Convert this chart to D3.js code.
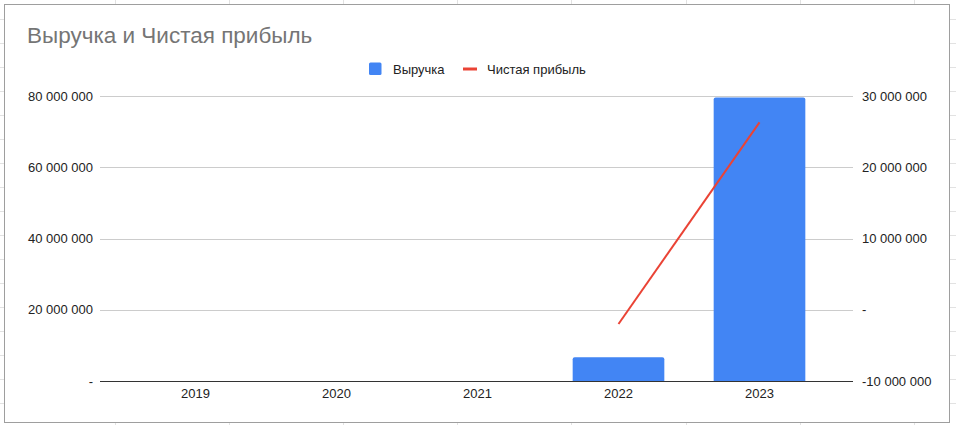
<!DOCTYPE html>
<html>
<head>
<meta charset="utf-8">
<script src="https://cdn.jsdelivr.net/npm/d3@7"></script>
<style>
  body { margin: 0; background: #fff; }
  text { font-family: "Liberation Sans", Arial, sans-serif; }
</style>
</head>
<body>
<div id="container"></div>
<script>
var width = 956, height = 425;

// donnees du graphique
var years = ["2019", "2020", "2021", "2022", "2023"];
var revenue = [0, 0, 0, 6700000, 79600000];
var profit = [null, null, null, -2000000, 26300000];
var leftTicks = [0, 20000000, 40000000, 60000000, 80000000];
var rightTicks = [-10000000, 0, 10000000, 20000000, 30000000];
var title = "Выручка и Чистая прибыль";
var seriesNames = ["Выручка", "Чистая прибыль"];

var svg = d3.select("#container")
    .append("svg")
    .attr("width", width)
    .attr("height", height);

// grille du tableur en fond
var bg = svg.append("g");
for (var cx = 115; cx < width; cx += 114.1) {
    bg.append("line").attr("x1", Math.round(cx) + 0.5).attr("x2", Math.round(cx) + 0.5)
      .attr("y1", 0).attr("y2", height).attr("stroke", "#e2e2e2");
}
for (var cy = 19; cy < height; cy += 24) {
    bg.append("line").attr("y1", cy + 0.5).attr("y2", cy + 0.5)
      .attr("x1", 0).attr("x2", width).attr("stroke", "#e2e2e2");
}

// cadre du graphique
svg.append("rect")
    .attr("x", 4.5).attr("y", 4.5)
    .attr("width", 945).attr("height", 418)
    .attr("fill", "#fff")
    .attr("stroke", "#9e9e9e");

var plotLeft = 100, plotRight = 853, plotTop = 96, plotBottom = 381;

var x = d3.scaleBand()
    .domain(years)
    .range([plotLeft + 25, plotRight - 23])
    .paddingInner(0.35)
    .paddingOuter(0.175);

var yL = d3.scaleLinear().domain([0, 80000000]).range([plotBottom, plotTop]);
var yR = d3.scaleLinear().domain([-10000000, 30000000]).range([plotBottom, plotTop]);

function fmt(v) {
    if (v === 0) return "-";
    return d3.format(",")(v).replace(/,/g, " ").replace("−", "-");
}

// titre
svg.append("text")
    .attr("x", 27).attr("y", 43)
    .attr("font-size", 22.5)
    .attr("fill", "#757575")
    .text(title);

// legende
var leg = svg.append("g");
leg.append("rect").attr("x", 369).attr("y", 62.5).attr("width", 12.5).attr("height", 12.5)
   .attr("rx", 1.5).attr("fill", "#4285f4");
leg.append("text").attr("x", 393).attr("y", 73.5).attr("font-size", 13).attr("fill", "#222")
   .text(seriesNames[0]);
leg.append("line").attr("x1", 463).attr("x2", 477).attr("y1", 69).attr("y2", 69)
   .attr("stroke", "#ea4335").attr("stroke-width", 3);
leg.append("text").attr("x", 487).attr("y", 73.5).attr("font-size", 13).attr("fill", "#222")
   .text(seriesNames[1]);

// lignes de grille
svg.append("g")
    .selectAll("line")
    .data(leftTicks.filter(function(d) { return d !== 0; }))
    .enter().append("line")
    .attr("x1", plotLeft).attr("x2", plotRight)
    .attr("y1", function(d) { return Math.round(yL(d)) + 0.5; })
    .attr("y2", function(d) { return Math.round(yL(d)) + 0.5; })
    .attr("stroke", "#cccccc");

// axe gauche
var axL = svg.append("g")
    .attr("transform", "translate(" + (plotLeft - 7) + ",0)")
    .call(d3.axisLeft(yL).tickValues(leftTicks).tickFormat(fmt).tickSize(0).tickPadding(0));
axL.select(".domain").remove();
axL.selectAll("text").attr("font-size", 13).attr("fill", "#222")
   .attr("font-family", "Liberation Sans, Arial, sans-serif");

// axe droit
var axR = svg.append("g")
    .attr("transform", "translate(" + (plotRight + 9) + ",0)")
    .call(d3.axisRight(yR).tickValues(rightTicks).tickFormat(fmt).tickSize(0).tickPadding(0));
axR.select(".domain").remove();
axR.selectAll("text").attr("font-size", 13).attr("fill", "#222")
   .attr("font-family", "Liberation Sans, Arial, sans-serif");

// barres
svg.append("g")
    .selectAll("path")
    .data(years.map(function(y, i) { return { year: y, value: revenue[i] }; })
               .filter(function(d) { return d.value > 0; }))
    .enter().append("path")
    .attr("fill", "#4285f4")
    .attr("d", function(d) {
        var x0 = x(d.year), w = x.bandwidth(), y0 = yL(d.value), b = yL(0), r = 2;
        return "M" + x0 + "," + b + "V" + (y0 + r) + "Q" + x0 + "," + y0 + " " + (x0 + r) + "," + y0 +
               "H" + (x0 + w - r) + "Q" + (x0 + w) + "," + y0 + " " + (x0 + w) + "," + (y0 + r) + "V" + b + "Z";
    });

// axe x
svg.append("line")
    .attr("x1", plotLeft).attr("x2", plotRight)
    .attr("y1", plotBottom + 0.5).attr("y2", plotBottom + 0.5)
    .attr("stroke", "#333").attr("stroke-width", 1);

var axX = svg.append("g")
    .attr("transform", "translate(0," + (plotBottom + 5) + ")")
    .call(d3.axisBottom(x).tickSize(0).tickPadding(0));
axX.select(".domain").remove();
axX.selectAll("text").attr("font-size", 13).attr("fill", "#222")
   .attr("dy", "0.95em")
   .attr("font-family", "Liberation Sans, Arial, sans-serif");

// ligne du profit
var line = d3.line()
    .defined(function(d) { return d.value !== null; })
    .x(function(d) { return x(d.year) + x.bandwidth() / 2; })
    .y(function(d) { return yR(d.value); });

svg.append("path")
    .datum(years.map(function(y, i) { return { year: y, value: profit[i] }; }))
    .attr("fill", "none")
    .attr("stroke", "#ea4335")
    .attr("stroke-width", 2)
    .attr("d", line);
</script>
</body>
</html>
